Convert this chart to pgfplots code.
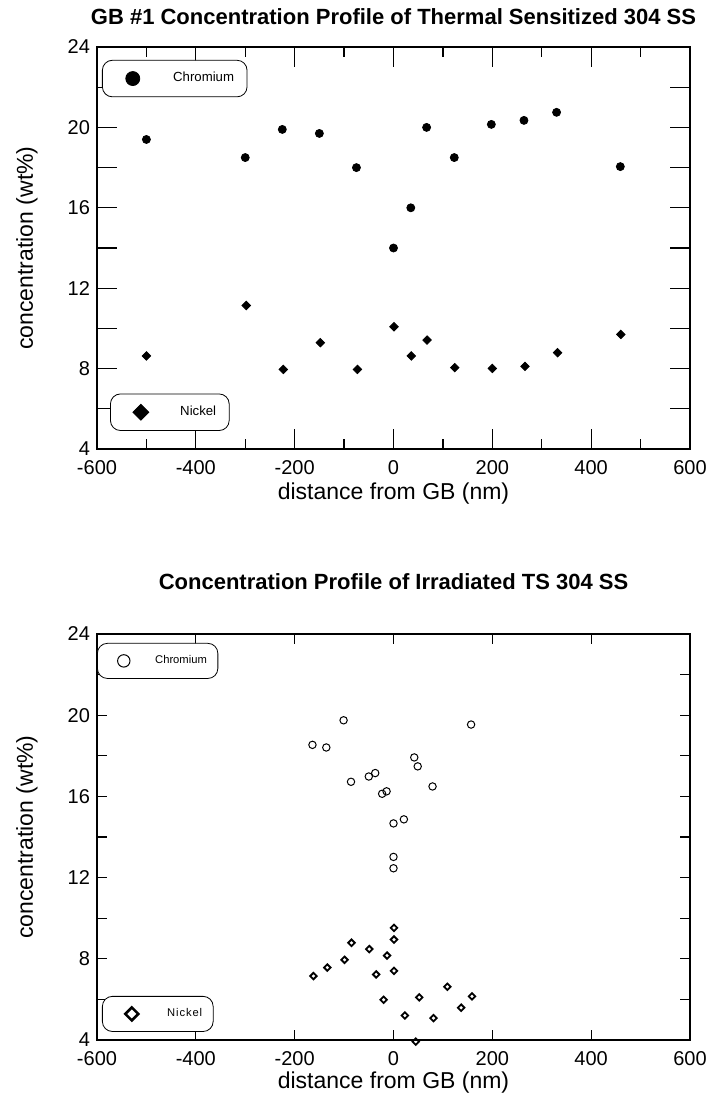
\documentclass[border=0pt]{standalone}
\usepackage{fontspec}
\setmainfont{Liberation Sans}
\usepackage{pgfplots}
\pgfplotsset{compat=1.18}

% values
\pgfplotstableread{
x y
-500 19.40
-300 18.50
-225 19.90
-150 19.70
-75 18.00
0 14.00
35 16.00
67 20.00
123 18.50
198 20.15
264 20.35
330 20.75
459 18.05
}\crTS
\pgfplotstableread{
x y
-500 8.63
-298 11.14
-223 7.96
-148 9.29
-73 7.96
1 10.08
36 8.63
68 9.42
124 8.05
200 8.01
266 8.11
332 8.79
460 9.70
}\niTS
\pgfplotstableread{
x y
-164 18.54
-136 18.41
-101 19.75
-86 16.72
-50 16.98
-37 17.15
-23 16.13
-14 16.25
0 14.67
21 14.87
0 13.02
0 12.46
42 17.92
49 17.48
79 16.49
157 19.54
}\crIRR
\pgfplotstableread{
x y
-162 7.15
-134 7.57
-99 7.95
-85 8.79
-49 8.48
-35 7.23
-13 8.16
-20 5.98
1 9.52
1 8.95
1 7.41
23 5.21
45 3.92
52 6.10
81 5.08
109 6.62
137 5.59
159 6.15
}\niIRR

\pgfplotsset{
  profile/.style={
    scale only axis, width=296.5pt,
    xmin=-600, xmax=600, ymin=4, ymax=24,
    xtick={-600,-400,...,600},
    ytick={4,6,...,24}, yticklabels={4,,8,,12,,16,,20,,24},
    tick align=inside,
    axis line style={line width=0.7pt},
    every tick/.style={black, line width=0.6pt},
    /pgf/number format/assume math mode=true,
    tick label style={font=\fontsize{10}{12}\selectfont},
    xticklabel style={yshift=-2pt},
    label style={font=\fontsize{11.5}{13}\selectfont},
    title style={font=\bfseries\fontsize{11}{13}\selectfont},
    xlabel={distance from GB (nm)}, ylabel={concentration (wt\%)},
    ylabel style={at={(axis description cs:-0.118,0.5)}, anchor=center},
  },
  overlay/.style={
    scale only axis, width=296.5pt, hide axis,
    xmin=-600, xmax=600, ymin=4, ymax=24,
  },
  legbox/.style n args={4}{
    legend style={draw=black, rounded corners=5pt, fill=white,
      inner xsep=#1, inner ysep=4pt, legend cell align=left,
      font=\fontsize{#4}{#4}\selectfont},
    legend image code/.code={\path (0pt,0pt) (#3,0pt);
      \draw[##1, only marks] plot coordinates {(#2,0pt)};},
  },
}

\begin{document}
\begin{tikzpicture}
\path[use as bounding box] (-48.5pt,224.5pt) rectangle (308.5pt,-322.5pt);

% ---- top: thermally sensitized ----
\begin{axis}[profile, height=201pt,
    minor x tick num=1, major tick length=10pt, minor tick length=5pt,
    title={GB \#1 Concentration Profile of Thermal Sensitized 304 SS},
    title style={at={(axis description cs:0.5,1.0075)}},
    xlabel style={at={(axis description cs:0.5,-0.11)}, anchor=center},
    legbox={4.5pt}{10.5pt}{28.5pt}{6.6},
    legend style={at={(0.0084,0.968)}, anchor=north west}]
\addlegendimage{black, mark=*, mark size=3.5pt}
\addlegendentry{Chromium}
\addplot[only marks, mark=*, mark size=2pt, black, forget plot] table {\crTS};
\end{axis}
\begin{axis}[overlay, height=201pt,
    legbox={4.5pt}{10.5pt}{28pt}{6.6},
    legend style={at={(0.022,0.045)}, anchor=south west}]
\addlegendimage{black, mark=square*, mark size=2.8pt, mark options={rotate=45}}
\addlegendentry{Nickel}
\addplot[only marks, mark=square*, mark size=1.5pt, mark options={rotate=45}, black, forget plot] table {\niTS};
\end{axis}

% ---- bottom: irradiated ----
\begin{axis}[profile, height=203pt, at={(0pt,-295.5pt)},
    major tick length=5pt,
    title={Concentration Profile of Irradiated TS 304 SS},
    title style={at={(axis description cs:0.5,1.062)}},
    xlabel style={at={(axis description cs:0.5,-0.106)}, anchor=center},
    legbox={3.5pt}{9.5pt}{23pt}{5.6},
    legend style={at={(0.0,0.978)}, anchor=north west}]
\addlegendimage{black, mark=o, mark size=3.1pt, mark options={line width=0.5pt}}
\addlegendentry{Chromium}
\addplot[only marks, mark=o, mark size=1.85pt, mark options={line width=0.5pt}, black, forget plot] table {\crIRR};
\end{axis}
\begin{axis}[overlay, height=203pt, at={(0pt,-295.5pt)}, clip=false,
    legbox={3.5pt}{11pt}{26.5pt}{5.6},
    legend style={at={(0.0084,0.02)}, anchor=south west}]
\addlegendimage{black, mark=square, mark size=2.3pt, mark options={rotate=45, line width=1.3pt}}
\addlegendentry{\addfontfeatures{LetterSpace=8}Nickel}
\addplot[only marks, mark=square, mark size=1.15pt, mark options={rotate=45, line width=0.9pt}, black, forget plot] table {\niIRR};
\end{axis}
\end{tikzpicture}
\end{document}
